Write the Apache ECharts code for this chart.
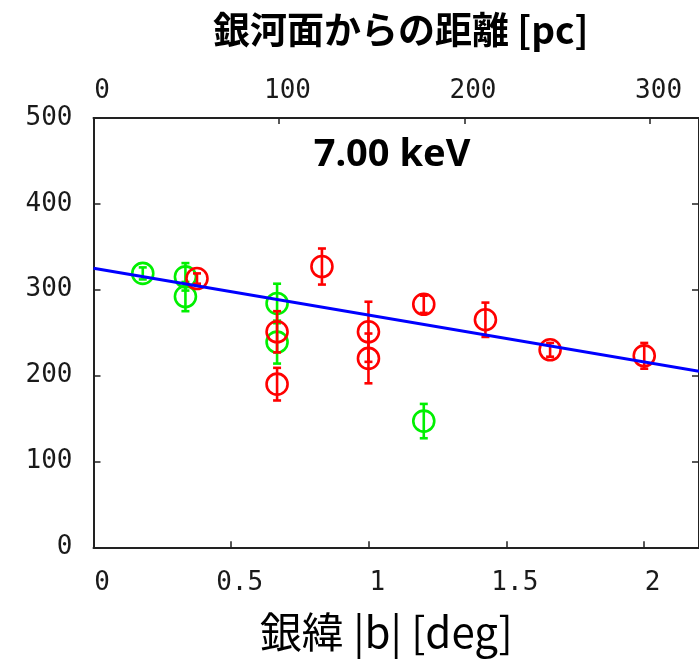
<!DOCTYPE html>
<html>
<head>
<meta charset="utf-8">
<script src="https://cdn.jsdelivr.net/npm/echarts@6/dist/echarts.min.js"></script>
<style>html,body{margin:0;padding:0;background:#fff;}#c{width:699px;height:659px;}</style>
</head>
<body>
<div id="c"></div>
<script>
// Galactic latitude |b| [deg], value, error
const greenX   = [0.179, 0.334, 0.334, 0.667, 0.667, 1.200];
const greenY   = [319,   315,   292,   284,   239,   147];
const greenErr = [7,     16,    17,    23,    25,    20];

const redX   = [0.376, 0.667, 0.667, 0.830, 0.999, 0.999, 1.200, 1.424, 1.659, 2.001];
const redY   = [313,   251,   190,   327,   251,   220,   283,   265,   230,   223];
const redErr = [6,     24,    19,    21,    35,    29,    10,    20,    8,     15];

const fitLine = [[0, 325], [2.2, 205]];

const xMin = 0, xMax = 2.2, xStep = 0.5;
const yMin = 0, yMax = 500, yStep = 100;
const topStep = 100; // pc
const distKpc = 8.5;

const titleText = '銀河面からの距離 [pc]';
const xName = '銀緯 |b| [deg]';
const energyLabel = '7.00 keV';

function zip3(a, b, c) { return a.map((v, i) => [v, b[i], c[i]]); }
function zip2(a, b) { return a.map((v, i) => [v, b[i]]); }

function errRender(color) {
  return function (params, api) {
    const x = api.value(0), y = api.value(1), e = api.value(2);
    const t = api.coord([x, y + e]);
    const b = api.coord([x, y - e]);
    const hw = 4;
    const st = { stroke: color, lineWidth: 2.6 };
    return {
      type: 'group',
      children: [
        { type: 'line', shape: { x1: t[0], y1: t[1], x2: b[0], y2: b[1] }, style: st },
        { type: 'line', shape: { x1: t[0] - hw, y1: t[1], x2: t[0] + hw, y2: t[1] }, style: st },
        { type: 'line', shape: { x1: b[0] - hw, y1: b[1], x2: b[0] + hw, y2: b[1] }, style: st }
      ]
    };
  };
}

const GREEN = '#00f000', RED = '#ff0000', BLUE = '#0000ff';
function tickFont() { return { fontFamily: 'DejaVu Sans Mono', fontSize: 26, color: '#1a1a1a' }; }
function axLine() { return { show: true, onZero: false, lineStyle: { color: '#222', width: 2 } }; }
function axTick(len) { return { show: true, inside: true, length: len, lineStyle: { color: '#222', width: 1.5 } }; }

const chart = echarts.init(document.getElementById('c'), null, { renderer: 'canvas' });
chart.setOption({
  backgroundColor: '#fff',
  animation: false,
  grid: { left: 93.5, top: 118, width: 605.9, height: 429.3, containLabel: false },
  xAxis: [
    {
      type: 'value', position: 'bottom', min: xMin, max: xMax, interval: xStep,
      axisLine: axLine(), splitLine: { show: false }, axisTick: axTick(6),
      axisLabel: Object.assign({ margin: 23, showMaxLabel: false, padding: [0, 0, 0, 17] }, tickFont()),
      name: xName, nameLocation: 'middle', nameGap: 64,
      nameTextStyle: { fontFamily: 'Noto Sans CJK JP', fontSize: 42, color: '#000', padding: [0, 20, 0, 0] }
    },
    {
      type: 'value', position: 'top', min: 0, max: xMax * Math.PI / 180 * distKpc * 1000, interval: topStep,
      axisLine: axLine(), splitLine: { show: false }, axisTick: axTick(6),
      axisLabel: Object.assign({ margin: 14, showMaxLabel: false, padding: [0, 0, 0, 17] }, tickFont()),
      name: titleText, nameLocation: 'middle', nameGap: 70,
      nameTextStyle: { fontFamily: 'Noto Sans CJK JP', fontWeight: 'bold', fontSize: 37, color: '#000', padding: [0, 0, 0, 9] }
    }
  ],
  yAxis: [
    {
      type: 'value', position: 'left', min: yMin, max: yMax, interval: yStep,
      axisLine: axLine(), splitLine: { show: false }, axisTick: axTick(7),
      axisLabel: Object.assign({ margin: 21, padding: [12, 0, 0, 0] }, tickFont())
    },
    {
      type: 'value', position: 'right', min: yMin, max: yMax, interval: yStep,
      axisLine: axLine(), splitLine: { show: false }, axisTick: axTick(7),
      axisLabel: { show: false }
    }
  ],
  graphic: [
    {
      type: 'text', x: 392, y: 155,
      style: { text: energyLabel, fontFamily: 'Noto Sans', fontWeight: 'bold', fontSize: 38, fill: '#000',
               textAlign: 'center', textVerticalAlign: 'middle' }
    }
  ],
  series: [
    { type: 'custom', xAxisIndex: 0, yAxisIndex: 0, data: zip3(greenX, greenY, greenErr), renderItem: errRender(GREEN), z: 2 },
    { type: 'scatter', xAxisIndex: 0, yAxisIndex: 0, data: zip2(greenX, greenY), symbol: 'circle', symbolSize: 21,
      itemStyle: { color: 'rgba(0,0,0,0)', borderColor: GREEN, borderWidth: 2.6, opacity: 1 }, z: 3 },
    { type: 'custom', xAxisIndex: 0, yAxisIndex: 0, data: zip3(redX, redY, redErr), renderItem: errRender(RED), z: 4 },
    { type: 'scatter', xAxisIndex: 0, yAxisIndex: 0, data: zip2(redX, redY), symbol: 'circle', symbolSize: 21,
      itemStyle: { color: 'rgba(0,0,0,0)', borderColor: RED, borderWidth: 2.6, opacity: 1 }, z: 5 },
    { type: 'line', xAxisIndex: 0, yAxisIndex: 0, data: fitLine, showSymbol: false, symbol: 'none',
      lineStyle: { color: BLUE, width: 3 }, z: 6 }
  ]
});
</script>
</body>
</html>
